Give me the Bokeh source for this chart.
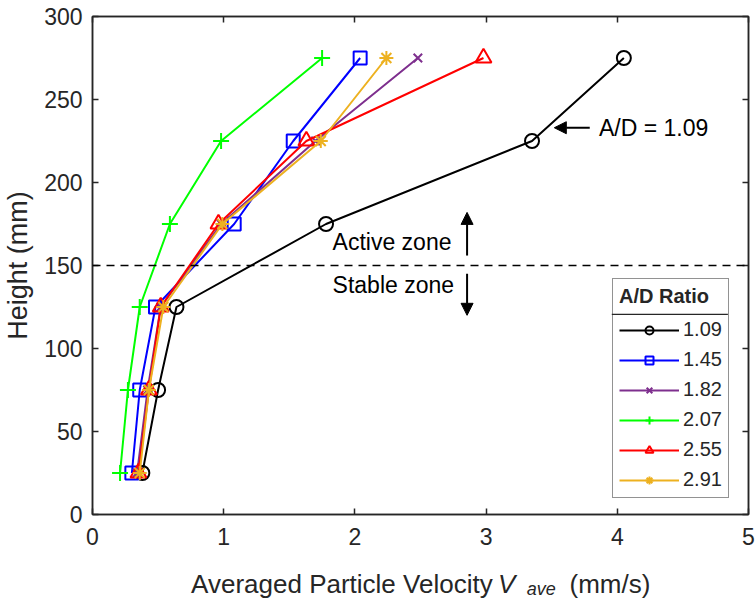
from bokeh.plotting import figure
from bokeh.layouts import column
from bokeh.models import (Legend, LegendItem, Label, Span, Arrow, NormalHead,
                          LinearAxis, BoxAnnotation, Range1d, FixedTicker)
from bokeh.embed import file_html
from bokeh.resources import INLINE

FONT = "Liberation Sans"

# Measurement heights (mm)
heights = [25, 75, 125, 175, 225, 275]

# Averaged particle velocity (mm/s) for each A/D ratio
v_109 = [0.38, 0.50, 0.64, 1.78, 3.35, 4.05]
v_145 = [0.30, 0.36, 0.48, 1.08, 1.53, 2.04]
v_182 = [0.34, 0.42, 0.52, 0.98, 1.70, 2.48]
v_207 = [0.21, 0.27, 0.36, 0.59, 0.98, 1.75]
v_255 = [0.35, 0.43, 0.52, 0.96, 1.63, 2.98]
v_291 = [0.36, 0.43, 0.54, 0.99, 1.74, 2.24]

ratio_labels = ["1.09", "1.45", "1.82", "2.07", "2.55", "2.91"]
series = [v_109, v_145, v_182, v_207, v_255, v_291]
colors = ["#000000", "#0000FF", "#7E2F8E", "#00FF00", "#FF0000", "#EDB120"]
markers = ["circle", "square", "x", "cross", "triangle", "asterisk"]
marker_sizes = [14, 13, 12, 16, 16, 14]

x_ticks = [0, 1, 2, 3, 4, 5]
y_ticks = [0, 50, 100, 150, 200, 250, 300]

p = figure(width=755, height=555, output_backend="svg", toolbar_location=None,
           x_range=Range1d(0, 5), y_range=Range1d(0, 300),
           min_border_left=88, min_border_right=7, min_border_top=16,
           min_border_bottom=41)
p.background_fill_color = "white"
p.border_fill_color = "white"
p.outline_line_color = "#262626"
p.outline_line_width = 1.5
p.xgrid.visible = False
p.ygrid.visible = False

for ax in (p.xaxis[0], p.yaxis[0]):
    ax.major_tick_in = 6
    ax.major_tick_out = 0
    ax.minor_tick_in = 0
    ax.minor_tick_out = 0
    ax.axis_line_color = "#262626"
    ax.axis_line_width = 1.5
    ax.major_tick_line_color = "#262626"
    ax.major_tick_line_width = 1.5
    ax.major_label_text_font = FONT
    ax.major_label_text_font_size = "23px"
    ax.major_label_text_color = "#262626"

p.xaxis.ticker = FixedTicker(ticks=x_ticks)
p.yaxis.ticker = FixedTicker(ticks=y_ticks)
p.xaxis.major_label_standoff = 13
p.yaxis.major_label_standoff = 10
p.yaxis.axis_label = "Height (mm)"
p.yaxis.axis_label_text_font = FONT
p.yaxis.axis_label_text_font_size = "27px"
p.yaxis.axis_label_text_font_style = "normal"
p.yaxis.axis_label_text_color = "#262626"
p.yaxis.axis_label_standoff = 8


def tick_only_axis(ticks):
    # Box edge with inward ticks and no labels
    return LinearAxis(ticker=FixedTicker(ticks=ticks), major_tick_in=6, major_tick_out=0,
                      minor_tick_in=0, minor_tick_out=0,
                      major_label_overrides={t: "" for t in ticks},
                      major_label_text_font_size="1px", major_label_standoff=0,
                      axis_line_color="#262626", axis_line_width=1.5,
                      major_tick_line_color="#262626", major_tick_line_width=1.5)


p.add_layout(tick_only_axis(x_ticks), "above")
p.add_layout(tick_only_axis(y_ticks), "right")

# Boundary between active and stable zones
p.add_layout(Span(location=150, dimension="width", line_color="black",
                  line_width=1.5, line_dash="8 6"))

items = []
for vals, lab, col, mk, ms in zip(series, ratio_labels, colors, markers, marker_sizes):
    r_line = p.line(vals, heights, line_color=col, line_width=2)
    r_mark = p.scatter(vals, heights, marker=mk, size=ms, line_color=col, line_width=2,
                       fill_color=None)
    items.append(LegendItem(label=lab, renderers=[r_line, r_mark]))

legend = Legend(items=items, location=(520, 16), title="A/D Ratio",
                title_text_font=FONT, title_text_font_size="20px",
                title_text_font_style="bold", title_text_color="#262626",
                title_standoff=10,
                label_text_font=FONT, label_text_font_size="20px",
                label_text_color="#262626",
                glyph_width=60, glyph_height=20, label_height=20, label_standoff=4,
                spacing=7, padding=6, margin=0,
                border_line_color="#262626", border_line_width=1.5,
                background_fill_alpha=0)
p.add_layout(legend)

# Separator under the legend title (thin bar spanning the legend box)
p.add_layout(BoxAnnotation(left=3.958, right=4.843, top=121.0, bottom=120.2,
                           line_color=None, fill_color="#262626", fill_alpha=1,
                           level="overlay"))

# Annotations
txt = dict(text_font=FONT, text_font_size="23px", text_color="black",
           text_baseline="middle")
p.add_layout(Label(x=3.86, y=233, text="A/D = 1.09", **txt))
p.add_layout(Arrow(end=NormalHead(size=12, fill_color="black", line_color="black"),
                   x_start=3.79, y_start=233, x_end=3.52, y_end=233,
                   line_color="black", line_width=2))
p.add_layout(Label(x=1.83, y=164, text="Active zone", **txt))
p.add_layout(Label(x=1.83, y=138, text="Stable zone", **txt))
p.add_layout(Arrow(end=NormalHead(size=12, fill_color="black", line_color="black"),
                   x_start=2.855, y_start=156, x_end=2.855, y_end=182,
                   line_color="black", line_width=2))
p.add_layout(Arrow(end=NormalHead(size=12, fill_color="black", line_color="black"),
                   x_start=2.855, y_start=145, x_end=2.855, y_end=120,
                   line_color="black", line_width=2))

# X axis title strip (shares the x range, so pieces line up with the axis)
xl = figure(width=755, height=43, output_backend="svg", toolbar_location=None,
            x_range=p.x_range, y_range=Range1d(0, 43),
            x_axis_type=None, y_axis_type=None,
            min_border_left=88, min_border_right=7, min_border_top=0,
            min_border_bottom=0)
xl.outline_line_color = None
xl.xgrid.visible = False
xl.ygrid.visible = False
xl.background_fill_color = "white"
xl.border_fill_color = "white"

base = 15
xl.add_layout(Label(x=3.05, y=base, text="Averaged Particle Velocity", text_align="right",
                    text_baseline="alphabetic", text_font=FONT, text_font_size="26px",
                    text_color="#262626"))
xl.add_layout(Label(x=3.09, y=base, text="V", text_align="left", text_baseline="alphabetic",
                    text_font=FONT, text_font_size="26px", text_font_style="italic",
                    text_color="#262626"))
xl.add_layout(Label(x=3.31, y=10, text="ave", text_align="left", text_baseline="alphabetic",
                    text_font=FONT, text_font_size="18px", text_font_style="italic",
                    text_color="#262626"))
xl.add_layout(Label(x=3.636, y=base, text="(mm/s)", text_align="left",
                    text_baseline="alphabetic", text_font=FONT, text_font_size="26px",
                    text_color="#262626"))

layout = column(p, xl, spacing=0)
open("out.html", "w").write(file_html(layout, INLINE))
